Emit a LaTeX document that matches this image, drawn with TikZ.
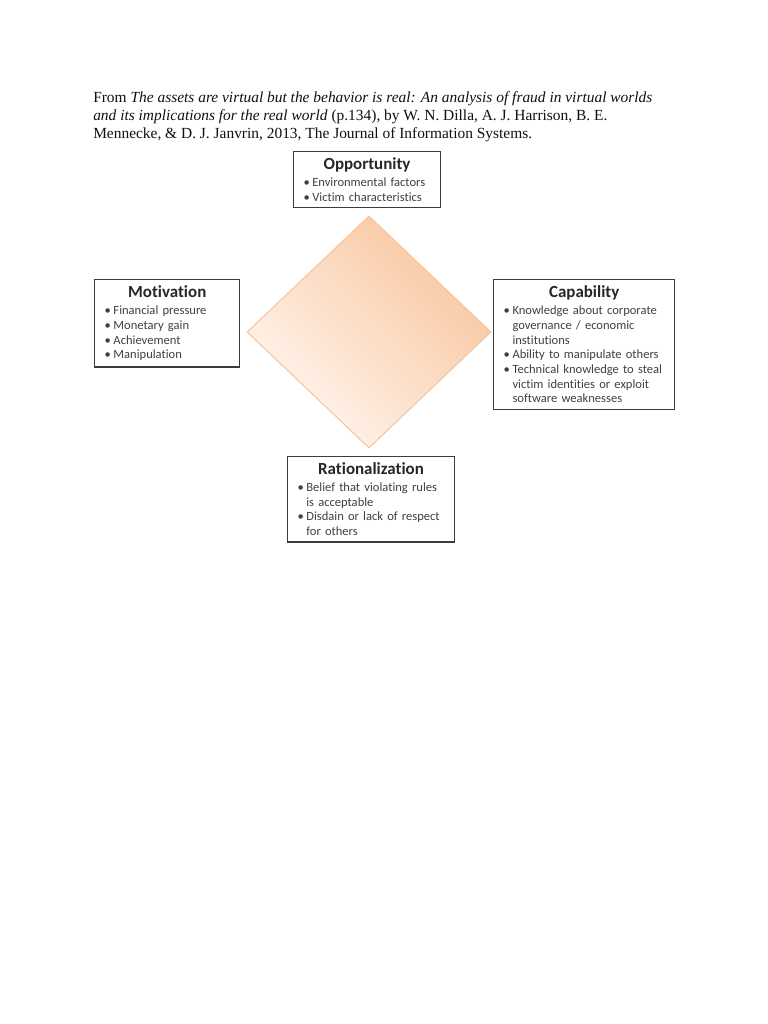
\documentclass[tikz,border=0pt]{standalone}
\usepackage{fontspec}
\setmainfont{Liberation Serif}
\newfontfamily\cardfont[Ligatures=NoCommon]{Carlito}
\usetikzlibrary{positioning,shapes.geometric}
\definecolor{cInk}{HTML}{111111}
\definecolor{cFrame}{HTML}{3C3C3C}
\definecolor{cHead}{HTML}{262626}
\definecolor{cBody}{HTML}{404040}
\definecolor{cPeach}{HTML}{F9C69E}
\definecolor{cPeachPale}{HTML}{FFF6F0}
\definecolor{cPeachLine}{HTML}{F8C39A}
\newcommand{\cardtitle}[1]{{\centering\leavevmode\bfseries
  \fontsize{13.5}{15}\selectfont\rule{0pt}{9.5pt}\textcolor{cHead}{#1}\par}\vspace{1.8pt}}
\newcommand{\bitem}[1]{\par\hangindent=7pt\hangafter=1\noindent
  \makebox[7pt][l]{\textbullet}#1\par}
\tikzset{
  card/.style={rectangle, draw=cFrame, line width=1.1pt, fill=white,
    align=left, inner xsep=8pt, inner ysep=5pt, text=cBody,
    font=\cardfont\fontsize{10}{11.7}\selectfont},
  source/.style={align=left, inner sep=0pt, text=cInk,
    font=\fontsize{12.3}{14.6}\selectfont},
}

\begin{document}
\begin{tikzpicture}[
  x=0.797pt, y=-0.797pt,
  facet/.style={diamond, draw=cPeachLine, line width=0.8pt, inner sep=0pt,
    minimum width=194.5pt, minimum height=185pt,
    top color=cPeach, bottom color=cPeachPale, shading angle=-45},
]
\useasboundingbox[fill=white] (0,0) rectangle (768,1024);
\node[source, anchor=north west] (src) at (93,91) {From \textit{The assets are
  virtual but the behavior is real: An analysis of fraud in virtual worlds}\\
  \textit{and its implications for the real world} (p.134), by W. N. Dilla,
  A. J. Harrison, B. E.\\
  Mennecke, \& D. J. Janvrin, 2013, The Journal of Information Systems.};
\node[facet] (dia) at (369,332) {};
% the four boxes
\node[card, text width=101.2pt, above=5.6pt of dia, xshift=-1.6pt] (opp) {\cardtitle{Opportunity}
  \bitem{Environmental factors}
  \bitem{Victim characteristics}};
\node[card, text width=99.6pt, anchor=north west] (mot) at (94,279) {\cardtitle{Motivation}
  \bitem{Financial pressure}
  \bitem{Monetary gain}
  \bitem{Achievement}
  \bitem{Manipulation}};
\node[card, text width=128.3pt, anchor=north west] (cap) at (493,279) {\cardtitle{Capability}
  \bitem{Knowledge about corporate\newline governance / economic\newline institutions}
  \bitem{Ability to manipulate others}
  \bitem{Technical knowledge to steal\newline victim identities or exploit\newline software weaknesses}};
\node[card, text width=117.1pt, below=5.6pt of dia, xshift=1.6pt] (rat) {\cardtitle{Rationalization}
  \bitem{Belief that violating rules\newline is acceptable}
  \bitem{Disdain or lack of respect\newline for others}};
\end{tikzpicture}
\end{document}
